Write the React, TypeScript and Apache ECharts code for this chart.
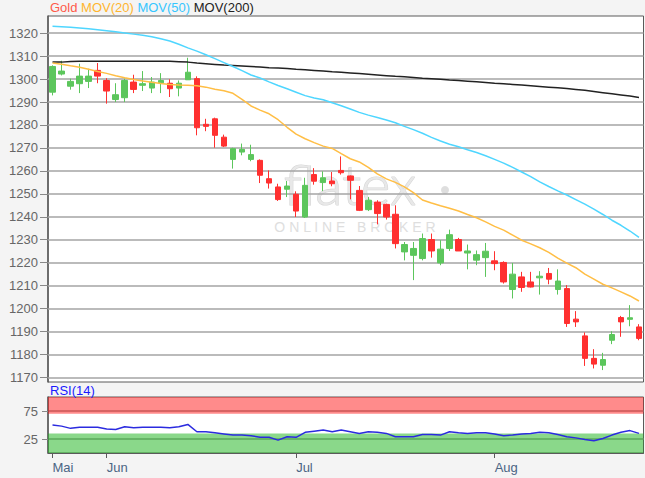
import React, { useEffect, useRef } from 'react';
import * as echarts from 'echarts';

const dates = [
  '2018-05-24', '2018-05-25', '2018-05-28', '2018-05-29', '2018-05-30', '2018-05-31',
  '2018-06-01', '2018-06-04', '2018-06-05', '2018-06-06', '2018-06-07', '2018-06-08',
  '2018-06-11', '2018-06-12', '2018-06-13', '2018-06-14', '2018-06-15', '2018-06-18',
  '2018-06-19', '2018-06-20', '2018-06-21', '2018-06-22', '2018-06-25', '2018-06-26',
  '2018-06-27', '2018-06-28', '2018-06-29',
  '2018-07-02', '2018-07-03', '2018-07-04', '2018-07-05', '2018-07-06', '2018-07-09',
  '2018-07-10', '2018-07-11', '2018-07-12', '2018-07-13', '2018-07-16', '2018-07-17',
  '2018-07-18', '2018-07-19', '2018-07-20', '2018-07-23', '2018-07-24', '2018-07-25',
  '2018-07-26', '2018-07-27', '2018-07-30', '2018-07-31',
  '2018-08-01', '2018-08-02', '2018-08-03', '2018-08-06', '2018-08-07', '2018-08-08',
  '2018-08-09', '2018-08-10', '2018-08-13', '2018-08-14', '2018-08-15', '2018-08-16',
  '2018-08-17', '2018-08-20', '2018-08-21', '2018-08-22', '2018-08-23',
];

const monthNames = ['Jan', 'Feb', 'Mär', 'Apr', 'Mai', 'Jun', 'Jul', 'Aug', 'Sep', 'Okt', 'Nov', 'Dez'];

const opens = [
  1294.3, 1302.2, 1296.9, 1298.0, 1299.0, 1303.8, 1299.4, 1291.1, 1291.9, 1298.7,
  1297.3, 1296.1, 1298.4, 1298.2, 1296.1, 1299.7, 1300.2, 1280.3, 1282.7, 1274.7,
  1265.0, 1268.2, 1265.0, 1264.6, 1256.6, 1253.0, 1252.0, 1249.8, 1239.9, 1258.4,
  1254.9, 1255.6, 1260.2, 1257.8, 1251.5, 1243.1, 1246.4, 1245.4, 1241.1, 1224.7,
  1223.2, 1221.8, 1230.1, 1219.9, 1226.2, 1230.1, 1224.2, 1221.1, 1222.2, 1220.8,
  1220.1, 1208.3, 1213.8, 1211.6, 1213.4, 1215.3, 1208.3, 1208.7, 1195.4, 1188.1,
  1178.3, 1175.3, 1186.2, 1196.1, 1195.3, 1192.0,
];
const closes = [
  1305.5, 1303.5, 1299.0, 1301.3, 1301.3, 1301.3, 1294.8, 1293.2, 1299.4, 1295.5,
  1298.0, 1298.7, 1299.4, 1295.8, 1298.2, 1303.0, 1278.8, 1279.4, 1275.5, 1270.8,
  1269.7, 1269.4, 1267.1, 1258.1, 1254.7, 1247.5, 1253.4, 1242.5, 1253.7, 1255.5,
  1257.0, 1254.4, 1259.2, 1255.9, 1242.8, 1247.2, 1241.4, 1239.9, 1228.3, 1227.9,
  1226.2, 1230.5, 1225.1, 1225.9, 1232.2, 1225.1, 1225.1, 1223.5, 1225.0, 1219.6,
  1211.6, 1215.0, 1209.2, 1209.4, 1214.1, 1212.8, 1212.0, 1193.5, 1194.2, 1178.3,
  1175.8, 1177.8, 1188.7, 1194.2, 1196.0, 1187.0,
];
const lows = [
  1292.9, 1301.6, 1295.4, 1293.9, 1296.1, 1298.2, 1289.3, 1290.0, 1290.0, 1293.9,
  1294.8, 1293.9, 1293.9, 1292.2, 1292.5, 1299.7, 1275.5, 1277.3, 1270.1, 1270.4,
  1261.0, 1266.8, 1264.2, 1254.7, 1252.3, 1246.9, 1248.6, 1239.9, 1239.5, 1254.0,
  1251.2, 1253.3, 1258.4, 1247.6, 1242.5, 1242.5, 1236.7, 1238.8, 1226.2, 1221.0,
  1212.4, 1221.0, 1222.2, 1218.9, 1225.1, 1225.1, 1217.1, 1218.9, 1213.8, 1216.7,
  1210.9, 1204.4, 1207.3, 1209.2, 1206.1, 1210.6, 1206.1, 1192.0, 1192.0, 1175.0,
  1173.9, 1173.2, 1184.5, 1187.7, 1192.3, 1186.2,
];
const highs = [
  1306.0, 1308.0, 1300.2, 1306.7, 1304.5, 1307.0, 1300.4, 1298.2, 1300.2, 1301.9,
  1303.5, 1300.9, 1302.6, 1299.9, 1299.4, 1309.3, 1301.2, 1282.7, 1283.2, 1275.8,
  1270.1, 1271.9, 1271.4, 1265.0, 1260.2, 1254.4, 1255.6, 1251.1, 1257.0, 1261.2,
  1259.8, 1259.5, 1266.3, 1258.0, 1253.4, 1248.6, 1247.2, 1245.7, 1245.0, 1229.0,
  1229.0, 1232.7, 1232.7, 1229.8, 1234.4, 1230.8, 1227.9, 1225.3, 1228.6, 1225.0,
  1220.6, 1219.9, 1216.0, 1216.0, 1216.3, 1217.7, 1217.1, 1210.2, 1198.9, 1189.6,
  1182.3, 1180.7, 1190.1, 1196.8, 1201.5, 1193.2,
];

const mov20 = [
  1307.0, 1306.5, 1305.8, 1305.2, 1304.3, 1303.3, 1302.5, 1301.5, 1300.6, 1299.8,
  1299.2, 1298.6, 1298.1, 1297.7, 1297.4, 1297.3, 1297.1, 1296.5, 1295.6, 1294.9,
  1293.8, 1291.2, 1288.3, 1286.5, 1284.9, 1282.3, 1279.0, 1276.0, 1274.0, 1272.3,
  1270.8, 1269.8, 1267.5, 1265.3, 1263.9, 1261.5, 1258.7, 1256.5, 1255.0, 1253.0,
  1250.5, 1247.3, 1246.0, 1244.8, 1243.7, 1242.5, 1241.0, 1239.6, 1237.8, 1235.8,
  1234.2, 1232.0, 1229.8, 1228.2, 1226.5, 1224.5, 1222.0, 1219.8, 1217.8, 1215.0,
  1212.8, 1210.6, 1209.0, 1207.3, 1205.5, 1203.3,
];
const mov50 = [
  1323.0, 1322.8, 1322.6, 1322.3, 1321.9, 1321.5, 1321.1, 1320.6, 1320.1, 1319.6,
  1319.1, 1318.5, 1317.6, 1316.6, 1315.2, 1313.6, 1312.2, 1310.6, 1308.9, 1307.2,
  1305.5, 1303.7, 1301.8, 1300.5, 1298.8, 1297.2, 1295.8, 1294.3, 1292.8, 1291.8,
  1291.0, 1289.7, 1288.4, 1287.0, 1285.5, 1284.3, 1283.3, 1282.2, 1281.0, 1279.4,
  1278.0, 1276.4, 1274.6, 1273.0, 1271.6, 1270.5, 1269.2, 1268.0, 1266.6, 1265.0,
  1263.4, 1261.5, 1259.5, 1257.5, 1255.2, 1253.2, 1251.3, 1249.5, 1247.5, 1245.5,
  1243.3, 1241.0, 1238.5, 1236.3, 1233.8, 1231.0,
];
const mov200 = [
  1307.4, 1307.4, 1307.7, 1307.8, 1307.8, 1307.8, 1307.8, 1307.8, 1307.8, 1307.8,
  1307.8, 1307.8, 1307.8, 1307.8, 1307.6, 1307.4, 1307.0, 1306.7, 1306.4, 1306.1,
  1305.9, 1305.7, 1305.5, 1305.3, 1305.0, 1304.8, 1304.6, 1304.3, 1304.1, 1303.8,
  1303.5, 1303.2, 1303.0, 1302.7, 1302.4, 1302.1, 1301.8, 1301.5, 1301.2, 1301.0,
  1300.7, 1300.4, 1300.2, 1299.9, 1299.6, 1299.4, 1299.1, 1298.8, 1298.5, 1298.2,
  1298.0, 1297.7, 1297.4, 1297.1, 1296.8, 1296.5, 1296.2, 1295.9, 1295.5, 1295.1,
  1294.6, 1294.1, 1293.6, 1293.1, 1292.6, 1292.0,
];
const rsi14 = [
  50, 48, 44, 46, 46, 46, 43, 42, 47, 45,
  46, 46, 46, 45, 47, 51, 38, 38, 36, 34,
  32, 32, 31, 28, 28, 23, 29, 28, 37, 39,
  41, 38, 41, 38, 35, 38, 37, 35, 29, 29,
  29, 33, 33, 32, 38, 36, 35, 36, 36, 34,
  31, 32, 34, 35, 37, 36, 33, 29, 27, 24,
  22, 26, 32, 37, 40, 35,
];

const priceTicks = [1170, 1180, 1190, 1200, 1210, 1220, 1230, 1240, 1250, 1260, 1270, 1280, 1290, 1300, 1310, 1320];
const rsiTicks = [25, 75];
const rsiOverbought = [70, 100];
const rsiOversold = [0, 35];

const FONT = '"Liberation Sans", Arial, sans-serif';

const isMonthStart = (index: number) =>
  index === 0 || dates[index].slice(5, 7) !== dates[index - 1].slice(5, 7);

export default function App() {
  const ref = useRef<HTMLDivElement>(null);

  useEffect(() => {
    if (!ref.current) return;
    const chart = echarts.init(ref.current, null, { renderer: 'svg' });
    const candleData = dates.map((_, i) => [opens[i], closes[i], lows[i], highs[i]]);
    const option: any = {
      animation: false,
      backgroundColor: '#f4f4f4',
      textStyle: { fontFamily: FONT },
      grid: [
        { left: 48, right: 1.5, top: 16, height: 366, show: true, backgroundColor: '#ffffff', borderColor: '#5a5a5a', borderWidth: 1 },
        { left: 48, right: 1.5, top: 397, height: 56, show: true, backgroundColor: '#ffffff', borderColor: '#5a5a5a', borderWidth: 1 },
      ],
      xAxis: [
        {
          type: 'category', data: dates, gridIndex: 0, boundaryGap: true,
          axisLine: { show: false }, axisTick: { show: false }, axisLabel: { show: false }, splitLine: { show: false },
        },
        {
          type: 'category', data: dates, gridIndex: 1, boundaryGap: true,
          axisLine: { show: true, lineStyle: { color: '#5a5a5a' } },
          axisTick: { show: true, interval: (i: number) => isMonthStart(i), alignWithLabel: true, length: 5, lineStyle: { color: '#5a5a5a' } },
          axisLabel: {
            interval: (i: number) => isMonthStart(i),
            formatter: (v: string) => monthNames[Number(v.slice(5, 7)) - 1],
            align: 'left', color: '#4b6584', fontSize: 13, margin: 8, fontFamily: FONT,
          },
          splitLine: { show: false },
        },
      ],
      yAxis: [
        {
          type: 'value', gridIndex: 0, min: 1168, max: 1327.5, scale: true,
          axisLine: { show: true, lineStyle: { color: '#5a5a5a', width: 1.5 } },
          axisTick: { show: true, length: 8, customValues: priceTicks, lineStyle: { color: '#888' } },
          axisLabel: { customValues: priceTicks, color: '#666', fontSize: 13, margin: 10, fontFamily: FONT,
            formatter: (v: number) => String(v) },
          splitLine: { show: false },
        },
        {
          type: 'value', gridIndex: 1, min: 0, max: 100, interval: 25,
          axisLine: { show: true, lineStyle: { color: '#5a5a5a', width: 1.5 } },
          axisTick: { show: true, length: 6, customValues: rsiTicks, lineStyle: { color: '#888' } },
          axisLabel: { customValues: rsiTicks, color: '#666', fontSize: 13, margin: 10, fontFamily: FONT,
            formatter: (v: number) => (rsiTicks.includes(v) ? String(v) : '') },
          splitLine: { show: true, lineStyle: { color: '#9a9a9a', width: 1.5 } },
        },
      ],
      series: [
        {
          name: 'MOV(200)', type: 'line', xAxisIndex: 0, yAxisIndex: 0, data: mov200,
          symbol: 'none', z: 4, lineStyle: { color: '#222222', width: 1.5 },
          markLine: {
            silent: true, z: 1, symbol: ['none', 'none'], label: { show: false },
            lineStyle: { color: '#a4a4a4', width: 1.5, type: 'solid' },
            emphasis: { disabled: true },
            data: priceTicks.map((v) => ({ yAxis: v })),
          },
        },
        {
          name: 'Gold', type: 'candlestick', xAxisIndex: 0, yAxisIndex: 0, data: candleData,
          barWidth: 6, z: 3,
          itemStyle: { color: '#5cc65c', color0: '#ff3030', borderColor: '#5cc65c', borderColor0: '#ff3030', borderWidth: 1 },
        },
        {
          name: 'MOV(20)', type: 'line', xAxisIndex: 0, yAxisIndex: 0, data: mov20,
          symbol: 'none', z: 4, lineStyle: { color: '#ffbe45', width: 1.5 },
        },
        {
          name: 'MOV(50)', type: 'line', xAxisIndex: 0, yAxisIndex: 0, data: mov50,
          symbol: 'none', z: 4, lineStyle: { color: '#4fd6ff', width: 1.5 },
        },
        {
          name: 'RSI(14)', type: 'line', xAxisIndex: 1, yAxisIndex: 1, data: rsi14,
          symbol: 'none', z: 4, lineStyle: { color: '#2b2bdf', width: 1.5 },
          markArea: {
            silent: true, z: 1,
            data: [
              [{ yAxis: rsiOverbought[0], itemStyle: { color: 'rgba(255,12,12,0.48)' } }, { yAxis: rsiOverbought[1] }],
              [{ yAxis: rsiOversold[0], itemStyle: { color: 'rgba(30,180,30,0.52)' } }, { yAxis: rsiOversold[1] }],
            ],
          },
        },
      ],
      graphic: [
        {
          type: 'text', left: 50, top: 1, z: 10,
          style: {
            text: '{g|Gold} {a|MOV(20)} {b|MOV(50)} {c|MOV(200)}',
            font: `13px ${FONT}`,
            rich: {
              g: { fill: '#ff5a4a', fontSize: 13, fontFamily: FONT },
              a: { fill: '#ffb52e', fontSize: 13, fontFamily: FONT },
              b: { fill: '#36c6ff', fontSize: 13, fontFamily: FONT },
              c: { fill: '#222222', fontSize: 13, fontFamily: FONT },
            },
          },
        },
        {
          type: 'text', left: 50, top: 384, z: 10,
          style: { text: 'RSI(14)', fill: '#1a1aff', font: `13px ${FONT}` },
        },
        {
          type: 'text', x: 350, y: 183, z: 1, silent: true,
          style: { text: 'flatex', fill: '#e8e8e8', stroke: '#d6d6d6', lineWidth: 1.2, font: `300 56px Lato, ${FONT}`, align: 'center', verticalAlign: 'middle' },
        },
        {
          type: 'circle', z: 1, silent: true, shape: { cx: 445, cy: 190, r: 4 },
          style: { fill: '#dedede' },
        },
        {
          type: 'text', x: 355, y: 227, z: 1, silent: true,
          style: { text: 'O N L I N E   B R O K E R', fill: '#dedede', font: `14px ${FONT}`, align: 'center', verticalAlign: 'middle' },
        },
      ],
    };
    chart.setOption(option);
    return () => chart.dispose();
  }, []);

  return <div ref={ref} style={{ position: 'absolute', left: 0, top: 0, width: 645, height: 478 }} />;
}
